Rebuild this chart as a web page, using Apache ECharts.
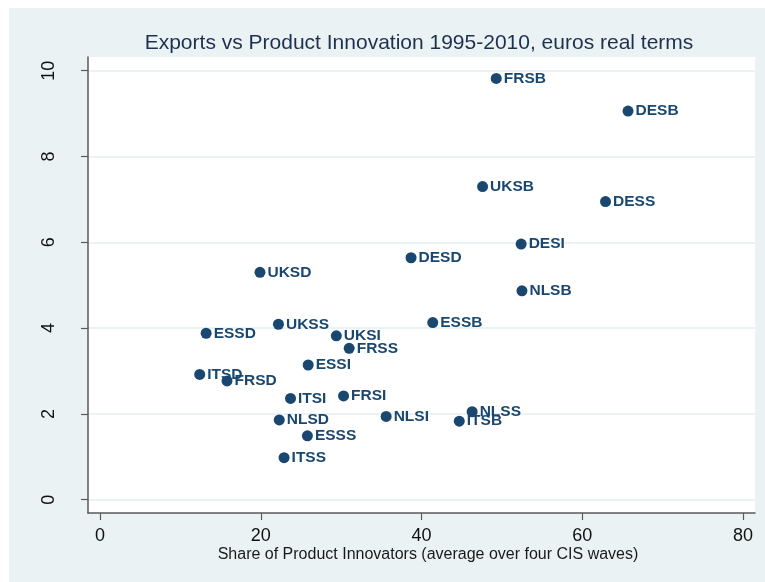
<!DOCTYPE html>
<html>
<head>
<meta charset="utf-8">
<script src="https://cdn.jsdelivr.net/npm/echarts@6/dist/echarts.min.js"></script>
<style>
  html, body { margin: 0; padding: 0; background: #ffffff; }
  #chart { width: 765px; height: 582px; }
</style>
</head>
<body>
<div id="chart"></div>
<script>
// ---- data ----
const pointLabels = ['FRSB','DESB','UKSB','DESS','DESI','DESD','NLSB','UKSD',
  'ESSB','UKSS','ESSD','UKSI','FRSS','ESSI','ITSD','FRSD',
  'ITSI','FRSI','NLSD','NLSI','NLSS','ITSB','ESSS','ITSS'];
const innovatorShare = [49.3, 65.7, 47.6, 62.9, 52.4, 38.7, 52.5, 19.9,
  41.4, 22.2, 13.2, 29.4, 31.0, 25.9, 12.4, 15.8,
  23.7, 30.3, 22.3, 35.6, 46.3, 44.7, 25.8, 22.9];
const exportsValue = [9.82, 9.06, 7.30, 6.95, 5.96, 5.64, 4.87, 5.30,
  4.13, 4.09, 3.88, 3.82, 3.53, 3.14, 2.92, 2.77,
  2.36, 2.42, 1.86, 1.94, 2.05, 1.83, 1.49, 0.98];
const xTicks = [0, 20, 40, 60, 80];
const yTicks = [0, 2, 4, 6, 8, 10];
const chartTitle = 'Exports vs Product Innovation 1995-2010, euros real terms';
const xTitle = 'Share of Product Innovators (average over four CIS waves)';

const points = pointLabels.map((n, i) => ({ name: n, value: [innovatorShare[i], exportsValue[i]] }));

const navy = '#1a476f';
const axisCol = '#5a5a5a';
const gridCol = '#eaf2f3';
const font = '"Liberation Sans", Arial, sans-serif';

const chart = echarts.init(document.getElementById('chart'), null, { renderer: 'canvas' });
chart.setOption({
  backgroundColor: '#ffffff',
  animation: false,
  textStyle: { fontFamily: font },
  graphic: [
    { type: 'rect', z: -100, silent: true,
      shape: { x: 9, y: 8, width: 756, height: 574 },
      style: { fill: gridCol } },
    { type: 'text', x: 419, y: 43, z: 10,
      style: { text: chartTitle, fontSize: 21, fontFamily: font, fill: '#1e3050',
               textAlign: 'center', textVerticalAlign: 'middle' } },
    { type: 'text', x: 428, y: 555, z: 10,
      style: { text: xTitle, fontSize: 16, fontFamily: font, fill: '#1a1a1a',
               textAlign: 'center', textVerticalAlign: 'middle' } }
  ],
  grid: {
    left: 88, right: 10, top: 57, bottom: 69,
    show: true, backgroundColor: '#ffffff', borderWidth: 0
  },
  xAxis: {
    type: 'value', min: -1.5, max: 81.5,
    axisLine: { show: true, onZero: false, lineStyle: { color: axisCol, width: 1.5 } },
    axisTick: { show: true, length: 7, customValues: xTicks, lineStyle: { color: axisCol, width: 1.2 } },
    axisLabel: { customValues: xTicks, fontSize: 18, color: '#111', margin: 14, fontFamily: font },
    splitLine: { show: false }
  },
  yAxis: {
    type: 'value', min: -0.31, max: 10.32,
    axisLine: { show: true, onZero: false, lineStyle: { color: axisCol, width: 1.5 } },
    axisTick: { show: true, length: 7, customValues: yTicks, lineStyle: { color: axisCol, width: 1.2 } },
    axisLabel: { customValues: yTicks, fontSize: 18, color: '#111', margin: 30, rotate: 90, fontFamily: font },
    splitLine: { show: true, lineStyle: { color: gridCol, width: 2 } }
  },
  series: [{
    type: 'scatter',
    data: points,
    symbol: 'circle',
    symbolSize: 11,
    itemStyle: { color: navy, opacity: 1 },
    label: {
      show: true, position: 'right', distance: 2,
      formatter: p => p.name,
      fontSize: 15.5, fontWeight: 'bold', color: navy, fontFamily: font
    }
  }]
});
</script>
</body>
</html>
